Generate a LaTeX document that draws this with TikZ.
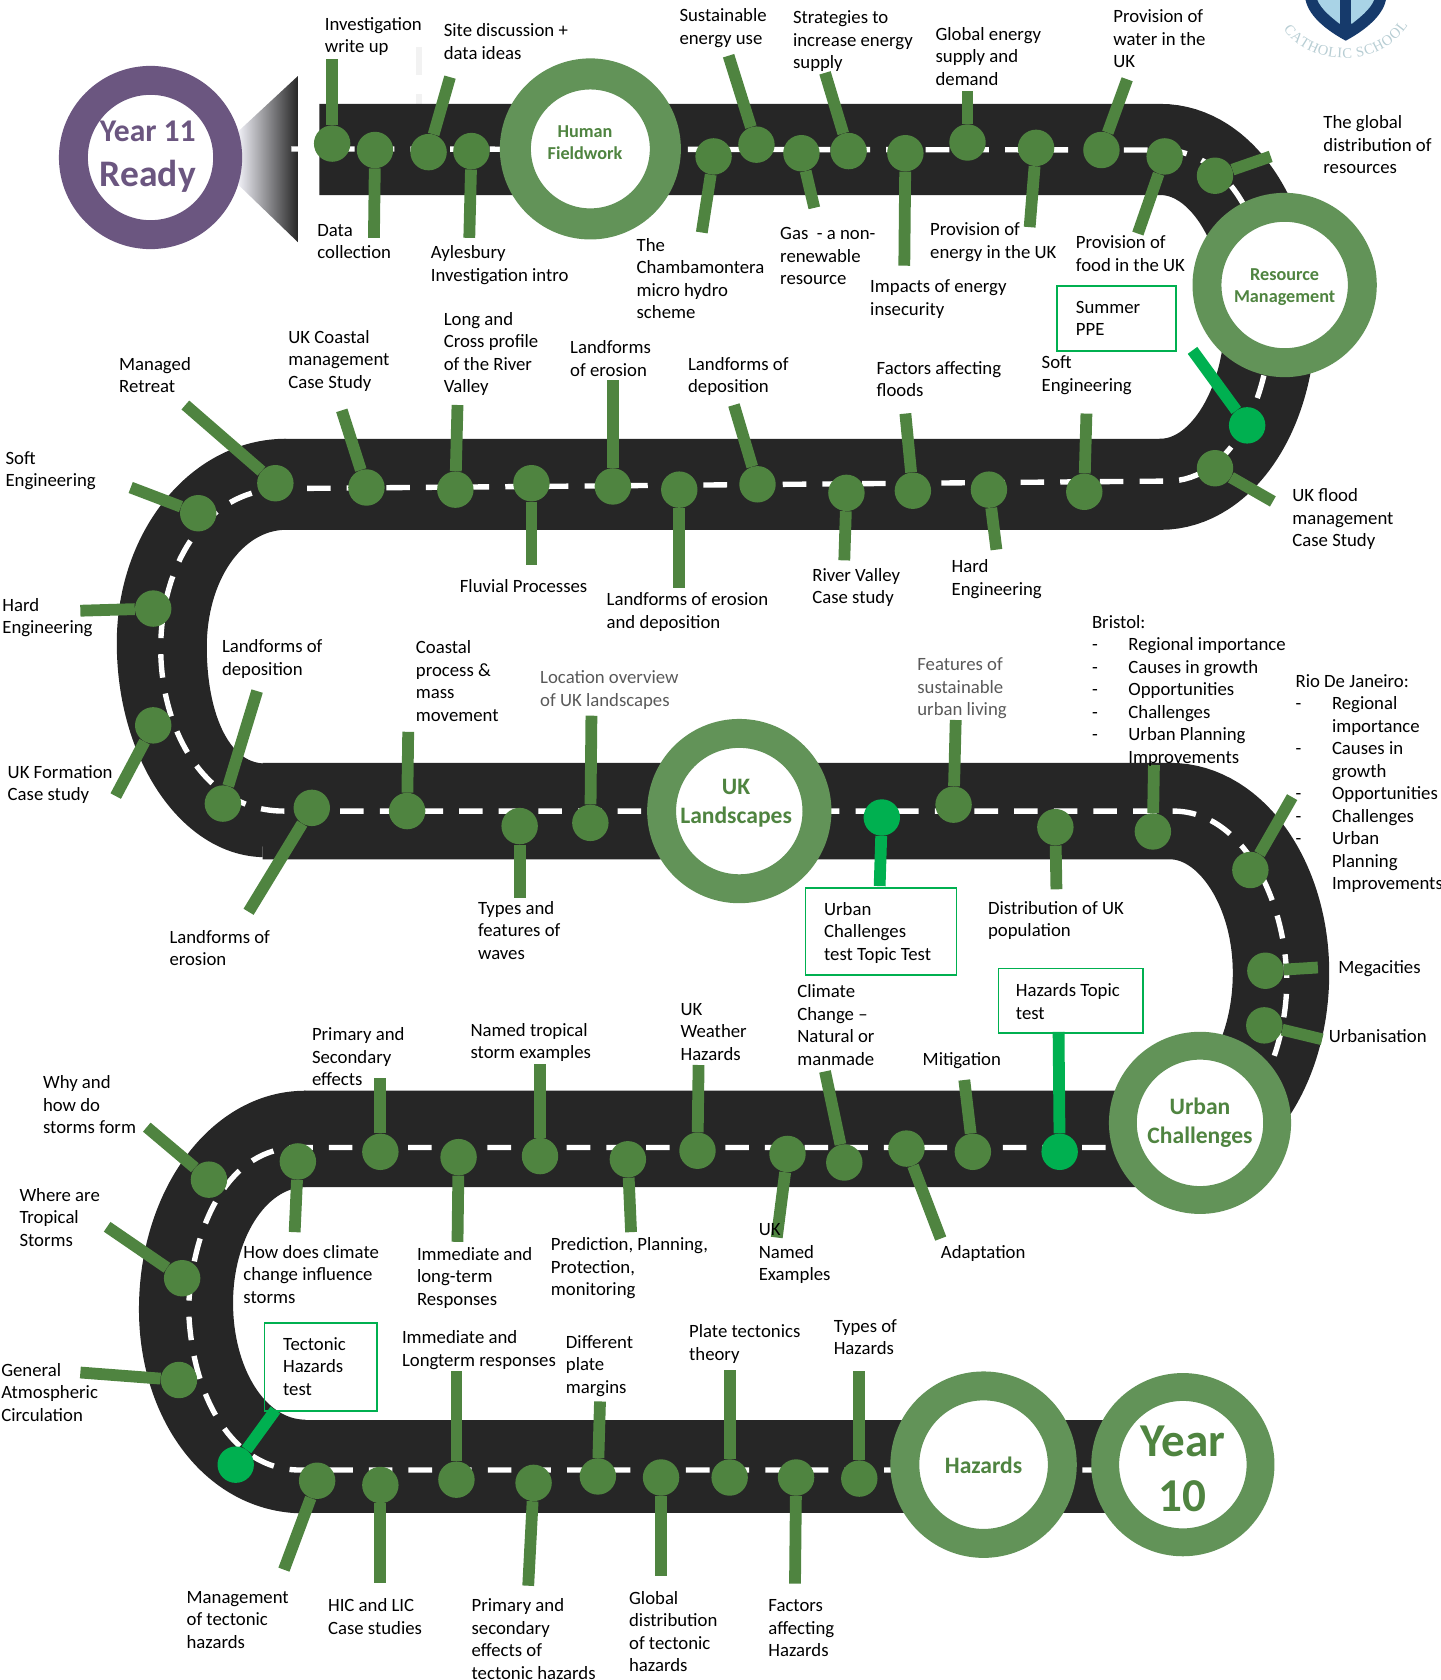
\documentclass[tikz,border=0pt]{standalone}
\usepackage{fontspec}
\setmainfont{Carlito}
\newfontfamily\logofont{Liberation Serif}
\usetikzlibrary{decorations.text}
\definecolor{roadc}{HTML}{262626}
\definecolor{pinc}{HTML}{4F8440}
\definecolor{ringc}{HTML}{629358}
\definecolor{brightc}{HTML}{00B050}
\definecolor{purplec}{HTML}{6B5680}
\definecolor{grayt}{HTML}{595959}
\definecolor{navyc}{HTML}{163A6B}
\definecolor{shieldc}{HTML}{A9D3E6}
\definecolor{logotext}{HTML}{B7CDD3}
\tikzset{
  road/.style={draw=roadc},
  lane/.style={draw=white,line width=5pt,dash pattern=on 22pt off 15pt},
  pindot/.style={circle,fill=pinc,minimum size=34pt,inner sep=0pt},
  stalk/.style={draw=pinc,line width=11pt},
  brightdot/.style={circle,fill=brightc,minimum size=34pt,inner sep=0pt},
  brightstalk/.style={draw=brightc,line width=11pt},
  lbl/.style={anchor=north west,inner sep=0pt,align=left,text=black,font=\fontsize{17.5}{21}\selectfont},
  graylbl/.style={lbl,text=grayt},
  testbox/.style={draw=brightc,line width=1.6pt,anchor=north west,inner sep=0pt},
  ring/.style={circle,draw=ringc,line width=27pt,fill=white,minimum size=145pt,inner sep=0pt},
  purplering/.style={circle,draw=purplec,line width=27pt,fill=white,minimum size=144pt,inner sep=0pt},
  ringtext/.style={align=center,inner sep=0pt,text=pinc,font=\bfseries\fontsize{17}{21}\selectfont},
  ringbig/.style={ringtext,font=\bfseries\fontsize{22}{27}\selectfont},
  faint/.style={fill=black!5,draw=none}
}
\newcommand{\pinn}[5]{\node[pindot] (p#1) at (#2,#3) {};\coordinate (e#1) at (#4,#5);\draw[stalk] (p#1) -- (e#1);}
\newcommand{\pinb}[5]{\node[brightdot] (p#1) at (#2,#3) {};\coordinate (e#1) at (#4,#5);\draw[brightstalk] (p#1) -- (e#1);}
\newcommand{\lab}[4]{\node[lbl] (t#1) at (#2,#3) {#4};}
\newcommand{\graylab}[4]{\node[graylbl] (t#1) at (#2,#3) {#4};}
\newcommand{\itm}{\makebox[34pt][l]{-}}
\newcommand{\cnt}{\makebox[34pt][l]{}}
\begin{document}
\begin{tikzpicture}[x=1pt,y=-1pt]
\useasboundingbox (0,0) rectangle (1344,1568);
% cone
\begin{scope}
\clip (223,122) -- (278,71) -- (278,226) -- (223,173) -- cycle;
\shade[left color=black!8!blue!3!white,right color=roadc] (220,60) rectangle (278,240);
\end{scope}
% faint marks
\fill[faint] (388,44) rectangle (394,70);
\fill[faint] (388,88) rectangle (394,98);
% road
\path[road,line width=85pt] (298,139.5) -- (1083,139.5)
  .. controls (1140,139.5) and (1185.5,209.5) .. (1185.5,296)
  .. controls (1185.5,382.5) and (1140,452) .. (1083,452)
  -- (265,452);
\fill[roadc] (267,409.5)
  .. controls (179,409.5) and (109,495) .. (109,600)
  .. controls (109,710) and (170,798) .. (245,800)
  -- (247,712.5)
  .. controls (213,712.5) and (193,664) .. (193,604)
  .. controls (193,542) and (226,494.5) .. (267,494.5) -- cycle;
\path[road,line width=90pt] (245,757) -- (1092,757)
  .. controls (1149,757) and (1195.6,825) .. (1195.6,908)
  .. controls (1195.6,994) and (1149,1063) .. (1092,1063)
  -- (284,1063);
\fill[roadc] (285,1018)
  .. controls (198,1018) and (129.7,1109) .. (129.7,1222)
  .. controls (129.7,1327) and (194,1413) .. (285,1412.5)
  -- (285,1325)
  .. controls (247,1325) and (217.5,1276) .. (217.5,1216)
  .. controls (217.5,1157) and (248,1108) .. (285,1108) -- cycle;
\path[road,line width=87pt] (284,1368.7) -- (1040,1368.7);
% lane
\path[lane] (272,139) -- (1085,140)
  .. controls (1150,140) and (1186,220) .. (1186,296)
  .. controls (1186,370) and (1150,449) .. (1090,449)
  -- (265,456)
  .. controls (190,456) and (150,530) .. (150,605)
  .. controls (150,680) and (190,757) .. (265,757)
  -- (1095,757)
  .. controls (1160,757) and (1200,840) .. (1201,915)
  .. controls (1201,990) and (1160,1071) .. (1100,1071)
  -- (278,1071)
  .. controls (215,1071) and (180,1140) .. (176,1220)
  .. controls (178,1300) and (215,1372) .. (280,1372)
  -- (1035,1372);
% rings
\node[purplering] (year11) at (140.5,147) {};
\node[ring,minimum size=140pt,line width=29pt] (human) at (551,139) {};
\node[ring] (resource) at (1199,266) {};
\node[ring] (landscapes) at (690,757) {};
\node[ring,minimum size=144pt,line width=26pt] (urban) at (1120,1048) {};
\node[ring,minimum size=147pt] (hazards) at (918,1367) {};
\node[ring,line width=26pt] (year10) at (1104,1367) {};
\node[inner sep=0pt,text=purplec,font=\bfseries\fontsize{29.5}{36}\selectfont] (year11a) at (138,123) {Year 11};
\node[inner sep=0pt,text=purplec,font=\bfseries\fontsize{35}{40}\selectfont] (year11b) at (138,165) {Ready};
\node[ringtext] (humant) at (546,133) {Human\\Fieldwork};
\node[ringtext] (resourcet) at (1199,268) {Resource\\Management};
\node[ringbig] (landscapest) at (687,750) {UK\\Landscapes};
\node[ringbig] (urbant) at (1120,1048) {Urban\\Challenges};
\node[ringbig] (hazardst) at (918,1368) {Hazards};
\node[ringtext,font=\bfseries\fontsize{44}{52}\selectfont] (year10t) at (1104,1371) {Year\\10};
% pins
\pinn{1}{310}{134}{310}{55}
\pinn{2}{350}{140}{349}{222}
\pinn{3}{400}{142}{420}{72}
\pinn{4}{440}{141}{438}{222}
\pinn{5}{666}{146}{655}{217}
\pinn{6}{706}{135}{680}{52}
\pinn{7}{748}{143}{760}{194}
\pinn{8}{792}{141}{770}{68}
\pinn{9}{845}{143}{844}{248}
\pinn{10}{903}{133}{903}{85}
\pinn{11}{967}{138}{961}{212}
\pinn{12}{1028}{140}{1052}{74}
\pinn{13}{1087}{146}{1062}{218}
\pinn{14}{1134}{164}{1186}{146}
\pinb{15}{1164}{397}{1113}{327}
\pinn{16}{1134}{437}{1188}{468}
\pinn{17}{1012}{459}{1014}{386}
\pinn{18}{923}{457}{930}{513}
\pinn{19}{852}{458}{845}{386}
\pinn{20}{790}{460}{788}{523}
\pinn{21}{707}{452}{685}{378}
\pinn{22}{634}{457}{634}{549}
\pinn{23}{572}{454}{572}{355}
\pinn{24}{496}{451}{496}{527}
\pinn{25}{425}{457}{427}{378}
\pinn{26}{342}{455}{319}{383}
\pinn{27}{257}{451}{173}{378}
\pinn{28}{185}{479}{122}{455}
\pinn{29}{143}{568}{75}{570}
\pinn{30}{143}{677}{108}{743}
\pinn{31}{208}{750}{240}{645}
\pinn{32}{291}{754}{232}{851}
\pinn{33}{380}{757}{381}{683}
\pinn{34}{485}{771}{485}{838}
\pinn{35}{551}{768}{552}{668}
\pinb{36}{823}{763}{821}{827}
\pinn{37}{890}{751}{892}{672}
\pinn{38}{985}{772}{986}{830}
\pinn{39}{1076}{776}{1077}{714}
\pinn{40}{1167}{812}{1206}{744}
\pinn{41}{1181}{906}{1230}{903}
\pinn{42}{1180}{957}{1234}{970}
\pinb{43}{989}{1075}{988}{963}
\pinn{44}{908}{1075}{900}{1008}
\pinn{45}{846}{1072}{878}{1156}
\pinn{46}{788}{1085}{770}{1000}
\pinn{47}{735}{1077}{725}{1155}
\pinn{48}{651}{1074}{652}{994}
\pinn{49}{586}{1082}{589}{1150}
\pinn{50}{504}{1079}{504}{993}
\pinn{51}{428}{1080}{427}{1159}
\pinn{52}{355}{1075}{355}{1006}
\pinn{53}{278}{1084}{275}{1150}
\pinn{54}{195}{1101}{137}{1052}
\pinn{55}{170}{1193}{100}{1145}
\pinn{56}{167}{1288}{75}{1281}
\pinb{57}{220}{1367}{257}{1316}
\pinn{58}{296}{1382}{265}{1465}
\pinn{59}{355}{1386}{355}{1477}
\pinn{60}{426}{1381}{426}{1280}
\pinn{61}{498}{1384}{493}{1480}
\pinn{62}{558}{1378}{560}{1308}
\pinn{63}{617}{1379}{617}{1471}
\pinn{64}{681}{1379}{681}{1279}
\pinn{65}{743}{1379}{742}{1478}
\pinn{66}{802}{1380}{802}{1280}
% test boxes
\node[testbox,minimum width=111pt,minimum height=61pt] (b15) at (986,266) {};
\node[testbox,minimum width=141pt,minimum height=81pt] (b36) at (751,828) {};
\node[testbox,minimum width=135pt,minimum height=60pt] (b43) at (931,903) {};
\node[testbox,minimum width=105pt,minimum height=82pt] (b57) at (246,1234) {};
% labels
\lab{1}{303}{16}{Investigation\\write up}
\lab{2}{296}{209}{Data\\collection}
\lab{3}{414}{22}{Site discussion +\\data ideas}
\lab{4}{402}{229}{Aylesbury\\Investigation intro}
\lab{5}{594}{222}{The\\Chambamontera\\micro hydro\\scheme}
\lab{6}{634}{8}{Sustainable\\energy use}
\lab{7}{728}{212}{Gas~ - a non-\\renewable\\resource}
\lab{8}{740}{10}{Strategies to\\increase energy\\supply}
\lab{9}{812}{261}{Impacts of energy\\insecurity}
\lab{10}{873}{25}{Global energy\\supply and\\demand}
\lab{11}{868}{208}{Provision of\\energy in the UK}
\lab{12}{1039}{9}{Provision of\\water in the\\UK}
\lab{13}{1004}{220}{Provision of\\food in the UK}
\lab{14}{1235}{108}{The global\\distribution of\\resources}
\lab{15}{1004}{281}{Summer\\PPE}
\lab{16}{1206}{456}{UK flood\\management\\Case Study}
\lab{17}{972}{332}{Soft\\Engineering}
\lab{18}{888}{522}{Hard\\Engineering}
\lab{19}{818}{337}{Factors affecting\\floods}
\lab{20}{758}{530}{River Valley\\Case study}
\lab{21}{642}{333}{Landforms of\\deposition}
\lab{22}{566}{553}{Landforms of erosion\\and deposition}
\lab{23}{532}{318}{Landforms\\of erosion}
\lab{24}{429}{541}{Fluvial Processes}
\lab{25}{414}{291}{Long and\\Cross profile\\of the River\\Valley}
\lab{26}{269}{308}{UK Coastal\\management\\Case Study}
\lab{27}{111}{333}{Managed\\Retreat}
\lab{28}{5}{421}{Soft\\Engineering}
\lab{29}{2}{558}{Hard\\Engineering}
\lab{30}{7}{714}{UK Formation\\Case study}
\lab{31}{207}{597}{Landforms of\\deposition}
\lab{32}{158}{868}{Landforms of\\erosion}
\lab{33}{388}{598}{Coastal\\process \&\\mass\\movement}
\lab{34}{446}{841}{Types and\\features of\\waves}
\graylab{35}{504}{626}{Location overview\\of UK landscapes}
\lab{36}{769}{842}{Urban\\Challenges\\test Topic Test}
\graylab{37}{856}{614}{Features of\\sustainable\\urban living}
\lab{38}{922}{841}{Distribution of UK\\population}
\lab{39}{1019}{574}{Bristol:\\\itm Regional importance\\\itm Causes in growth\\\itm Opportunities\\\itm Challenges\\\itm Urban Planning\\\cnt Improvements}
\lab{40}{1209}{629}{Rio De Janeiro:\\\itm Regional\\\cnt importance\\\itm Causes in\\\cnt growth\\\itm Opportunities\\\itm Challenges\\\itm Urban\\\cnt Planning\\\cnt Improvements}
\lab{41}{1249}{896}{Megacities}
\lab{42}{1240}{961}{Urbanisation}
\lab{43}{948}{918}{Hazards Topic\\test}
\lab{44}{861}{982}{Mitigation}
\lab{45}{878}{1162}{Adaptation}
\lab{46}{744}{919}{Climate\\Change --\\Natural or\\manmade}
\lab{47}{708}{1142}{UK\\Named\\Examples}
\lab{48}{635}{936}{UK\\Weather\\Hazards}
\lab{49}{514}{1155}{Prediction, Planning,\\Protection,\\monitoring}
\lab{50}{439}{955}{Named tropical\\storm examples}
\lab{51}{389}{1164}{Immediate and\\long-term\\Responses}
\lab{52}{291}{959}{Primary and\\Secondary\\effects}
\lab{53}{227}{1162}{How does climate\\change influence\\storms}
\lab{54}{40}{1004}{Why and\\how do\\storms form}
\lab{55}{18}{1109}{Where are\\Tropical\\Storms}
\lab{56}{1}{1272}{General\\Atmospheric\\Circulation}
\lab{57}{264}{1248}{Tectonic\\Hazards\\test}
\lab{58}{174}{1485}{Management\\of tectonic\\hazards}
\lab{59}{306}{1492}{HIC and LIC\\Case studies}
\lab{60}{375}{1242}{Immediate and\\Longterm responses}
\lab{61}{440}{1492}{Primary and\\secondary\\effects of\\tectonic hazards}
\lab{62}{528}{1246}{Different\\plate\\margins}
\lab{63}{587}{1485}{Global\\distribution\\of tectonic\\hazards}
\lab{64}{643}{1236}{Plate tectonics\\theory}
\lab{65}{717}{1493}{Factors\\affecting\\Hazards}
\lab{66}{778}{1231}{Types of\\Hazards}
% logo
\begin{scope}
\clip (1200,0) rectangle (1310,60);
\fill[navyc] (1218,-5) -- (1294,-5) .. controls (1294,10) and (1280,25) .. (1256,38) .. controls (1232,25) and (1218,10) .. (1218,-5) -- cycle;
\fill[shieldc] (1228,-5) -- (1284,-5) .. controls (1282,6) and (1272,14) .. (1262,22) -- (1250,22) .. controls (1240,14) and (1230,6) .. (1228,-5) -- cycle;
\fill[navyc] (1251,-5) rectangle (1261,34);
\end{scope}
\path[decorate,decoration={text along path,text align=fit to path,text={|\logofont\fontsize{13.5}{13.5}\selectfont\color{logotext}|CATHOLIC SCHOOL}}] (1198,27) .. controls (1222,62) and (1285,66) .. (1314,24);
\end{tikzpicture}
\end{document}
